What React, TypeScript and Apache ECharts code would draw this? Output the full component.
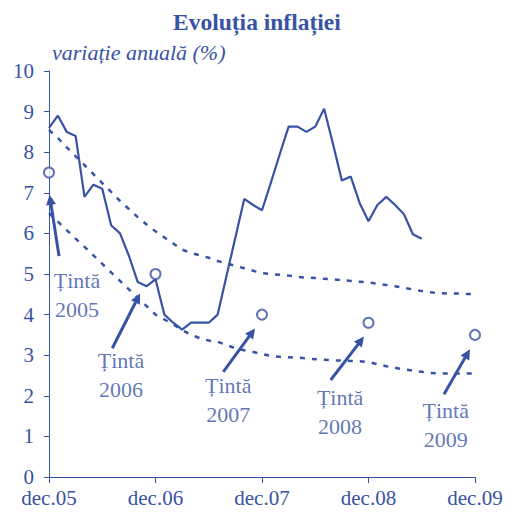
import React, { useEffect, useRef } from "react";
import * as echarts from "echarts";

// x positions are month indices: 0 = dec.05 ... 48 = dec.09
const tickLabels = ["dec.05", "dec.06", "dec.07", "dec.08", "dec.09"];

// annual CPI inflation, monthly, dec.05 .. jun.09
const inflation = [
  8.6, 8.9, 8.5, 8.4, 6.9, 7.2, 7.1, 6.2, 6.0, 5.45, 4.8, 4.7,
  4.87, 4.0, 3.8, 3.63, 3.8, 3.8, 3.8, 4.0, 4.95, 5.9, 6.85, 6.7,
  6.57, 7.25, 7.95, 8.63, 8.63, 8.5, 8.63, 9.07, 8.2, 7.3, 7.4, 6.75,
  6.3, 6.7, 6.9, 6.7, 6.47, 5.98, 5.87,
];

// target band upper / lower limits, monthly dec.05 .. dec.09
const upperBand = [
  8.55, 8.35, 8.12, 7.9, 7.68, 7.46, 7.24, 7.02, 6.8, 6.6, 6.4, 6.22,
  6.05, 5.9, 5.75, 5.6, 5.52, 5.46, 5.4, 5.32, 5.26, 5.2, 5.14, 5.08,
  5.02, 5.0, 4.98, 4.96, 4.93, 4.91, 4.9, 4.88, 4.87, 4.85, 4.83, 4.81,
  4.79, 4.76, 4.73, 4.7, 4.66, 4.62, 4.58, 4.55, 4.53, 4.52, 4.52, 4.51,
  4.5,
];
const lowerBand = [
  6.5, 6.29, 6.08, 5.87, 5.67, 5.46, 5.25, 5.04, 4.83, 4.62, 4.42, 4.21,
  4.0, 3.88, 3.76, 3.62, 3.5, 3.42, 3.36, 3.33, 3.25, 3.17, 3.12, 3.08,
  3.03, 2.98, 2.96, 2.95, 2.94, 2.92, 2.9, 2.89, 2.87, 2.87, 2.86, 2.85,
  2.83, 2.78, 2.73, 2.69, 2.65, 2.62, 2.59, 2.56, 2.55, 2.55, 2.55, 2.55,
  2.55,
];

// inflation targets (December of each year)
const targetYears = ["2005", "2006", "2007", "2008", "2009"];
const targetMonth = [0, 12, 24, 36, 48];
const targetValues = [7.5, 5, 4, 3.8, 3.5];

// annotation placement (data coordinates: month index, percent)
const labelPos = [
  [3.15, 4.48],
  [8.11, 2.52],
  [20.2, 1.89],
  [32.8, 1.6],
  [44.7, 1.29],
];
const arrowTail = [
  [1.13, 5.44],
  [7.13, 3.17],
  [19.64, 2.59],
  [31.74, 2.39],
  [44.51, 2.04],
];
const arrowTip = [
  [0.15, 6.83],
  [10.0, 4.41],
  [22.88, 3.56],
  [35.15, 3.36],
  [47.15, 3.04],
];

const BLUE = "#3853A4";
const FONT = "'Liberation Serif', 'Times New Roman', serif";

export default function App() {
  const ref = useRef<HTMLDivElement>(null);

  useEffect(() => {
    document.body.style.margin = "0";
    if (!ref.current) return;
    const chart = echarts.init(ref.current, undefined, { renderer: "svg" });

    const toPairs = (arr: number[]) => arr.map((v, i) => [i, v]);

    chart.setOption({
      animation: false,
      backgroundColor: "#ffffff",
      textStyle: { fontFamily: FONT, color: BLUE },
      title: [
        {
          text: "Evoluția inflației",
          left: 173,
          top: 10,
          padding: 0,
          textStyle: { fontFamily: FONT, fontSize: 23.5, fontWeight: "bold", color: BLUE },
        },
        {
          text: "variație anuală (%)",
          left: 52,
          top: 41,
          padding: 0,
          textStyle: {
            fontFamily: FONT,
            fontSize: 22,
            fontStyle: "italic",
            fontWeight: "normal",
            color: BLUE,
          },
        },
      ],
      grid: { left: 49, right: 32, top: 71, bottom: 42, containLabel: false },
      xAxis: {
        type: "value",
        min: 0,
        max: 48,
        interval: 12,
        axisLine: { show: true, lineStyle: { color: BLUE, width: 1 } },
        axisTick: { show: true, length: 6, lineStyle: { color: BLUE, width: 1 } },
        splitLine: { show: false },
        axisLabel: {
          color: BLUE,
          fontFamily: FONT,
          fontSize: 21,
          margin: 12,
          lineHeight: 18,
          formatter: (v: number) => tickLabels[Math.round(v / 12)] ?? "",
        },
      },
      yAxis: {
        type: "value",
        min: 0,
        max: 10,
        interval: 1,
        axisLine: { show: true, lineStyle: { color: BLUE, width: 1 } },
        axisTick: { show: true, length: 5, lineStyle: { color: BLUE, width: 1 } },
        splitLine: { show: false },
        axisLabel: { color: BLUE, fontFamily: FONT, fontSize: 21, margin: 15, lineHeight: 16 },
      },
      series: [
        {
          name: "upper",
          type: "line",
          data: toPairs(upperBand),
          symbol: "none",
          lineStyle: { color: BLUE, width: 2.5, type: [5, 7] },
          silent: true,
        },
        {
          name: "lower",
          type: "line",
          data: toPairs(lowerBand),
          symbol: "none",
          lineStyle: { color: BLUE, width: 2.5, type: [5, 7] },
          silent: true,
        },
        {
          name: "inflation",
          type: "line",
          data: toPairs(inflation),
          symbol: "none",
          lineStyle: { color: BLUE, width: 2.2 },
          silent: true,
        },
        {
          name: "labels",
          type: "scatter",
          data: labelPos.map((p) => p),
          symbolSize: 1,
          itemStyle: { color: "rgba(0,0,0,0)" },
          clip: false,
          silent: true,
          label: {
            show: true,
            position: "inside",
            formatter: (p: any) => "Țintă\n" + targetYears[p.dataIndex],
            color: BLUE,
            fontFamily: FONT,
            fontSize: 22,
            lineHeight: 29,
            align: "center",
            textBorderWidth: 0,
            textBorderColor: "transparent",
          },
          markLine: {
            silent: true,
            symbol: ["none", "triangle"],
            symbolSize: 10,
            label: { show: false },
            lineStyle: { color: BLUE, width: 3, type: "solid" },
            data: arrowTail.map((t, i) => [
              { coord: t, symbol: "none" },
              { coord: arrowTip[i], symbol: "triangle", symbolSize: 10 },
            ]),
          },
        },
        {
          name: "targets",
          type: "scatter",
          data: targetValues.map((v, i) => [targetMonth[i], v]),
          symbol: "circle",
          symbolSize: 10,
          clip: false,
          itemStyle: { color: "#ffffff", borderColor: BLUE, borderWidth: 2 },
          silent: true,
          z: 5,
        },
      ],
    });

    return () => chart.dispose();
  }, []);

  return <div ref={ref} style={{ width: 507, height: 519 }} />;
}
